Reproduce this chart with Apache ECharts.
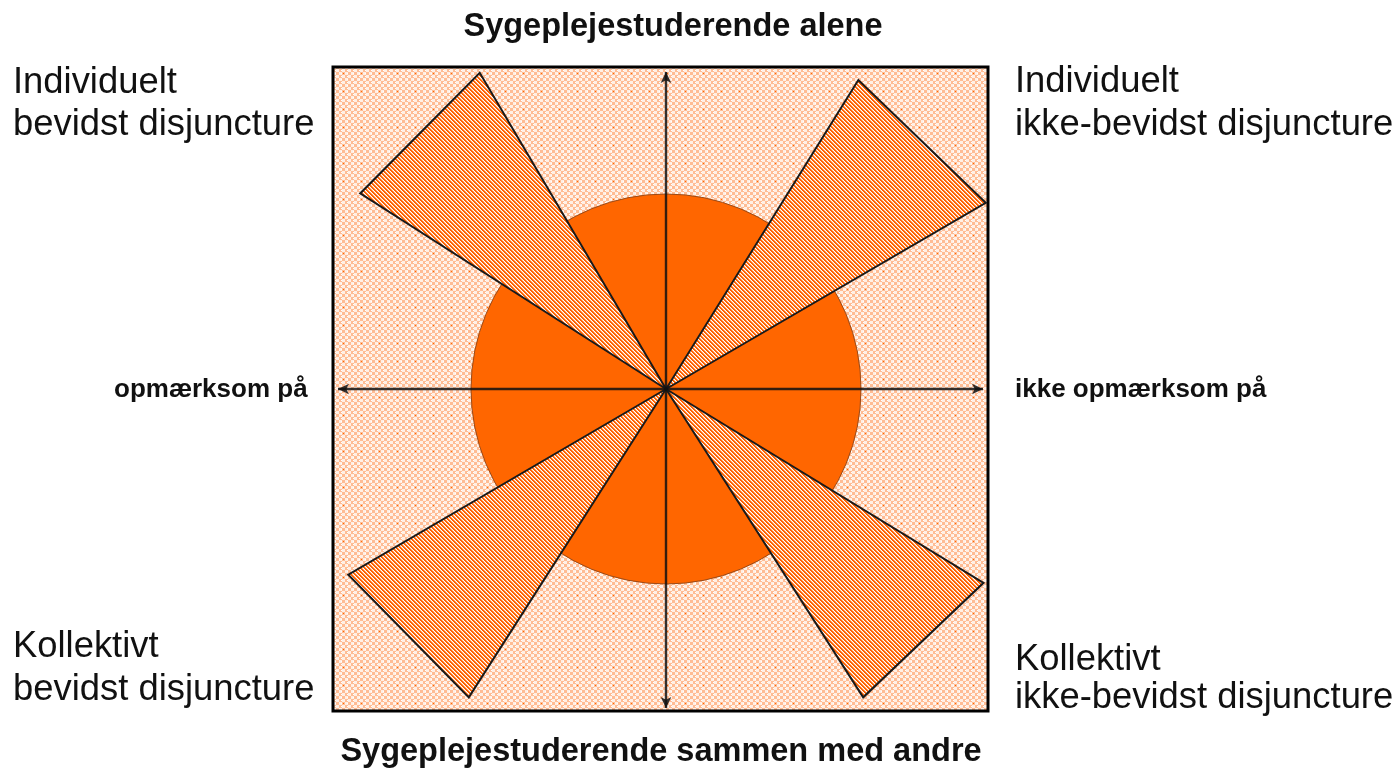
<!DOCTYPE html>
<html><head><meta charset="utf-8">
<script src="https://cdn.jsdelivr.net/npm/echarts@6/dist/echarts.min.js"></script>
<style>html,body{margin:0;padding:0;background:#fff}#c{width:1396px;height:772px}</style>
</head><body><div id="c"></div>
<script>
// ---- data ----
const xRange = [-333, 322];
const yRange = [-322, 322];
const circleRadius = 195;
const petalNames = ['Individuelt bevidst', 'Individuelt ikke-bevidst', 'Kollektivt bevidst', 'Kollektivt ikke-bevidst'];
const petalAngleA = [120.5, 30.2, 210.3, 302.6];
const petalLenA   = [367, 370, 368, 366];
const petalAngleB = [147.4, 58.1, 237.4, 328.6];
const petalLenB   = [363, 364, 366, 372];
const hAxisExtent = [-328, 317];
const vAxisExtent = [-319, 317];
const topTitle = 'Sygeplejestuderende alene';
const bottomTitle = 'Sygeplejestuderende sammen med andre';
const leftAxisLabel = 'opmærksom på';
const rightAxisLabel = 'ikke opmærksom på';
const cornerTL = ['Individuelt', 'bevidst disjuncture'];
const cornerTR = ['Individuelt', 'ikke-bevidst disjuncture'];
const cornerBL = ['Kollektivt', 'bevidst disjuncture'];
const cornerBR = ['Kollektivt', 'ikke-bevidst disjuncture'];

// ---- patterns ----
function makeBg() {
  const W = 36, H = 36;
  const c = document.createElement('canvas'); c.width = W; c.height = H;
  const g = c.getContext('2d');
  for (let y = 0; y < H; y++) for (let x = 0; x < W; x++) {
    const b = (Math.floor(x / 3) + Math.floor(y / 3)) % 2;
    let col = b === 0 ? '#ffbc94' : '#fff0e6';
    if ((x % 6 === 5 && y % 3 === 1)) col = '#ffffff';
    g.fillStyle = col; g.fillRect(x, y, 1, 1);
  }
  g.fillStyle = '#ff6a00';
  g.fillRect(1, 1, 1, 1); g.fillRect(19, 19, 1, 1);
  g.fillRect(19, 1, 1, 1); g.fillRect(1, 19, 1, 1);
  return c;
}
function makeHatch() {
  const W = 8, H = 8;
  const c = document.createElement('canvas'); c.width = W; c.height = H;
  const g = c.getContext('2d');
  for (let y = 0; y < H; y++) for (let x = 0; x < W; x++) {
    const v = (((x - y) % 4) + 4) % 4;
    g.fillStyle = v < 2 ? '#ff6200' : (v === 2 ? '#ffb88c' : '#ffffff');
    g.fillRect(x, y, 1, 1);
  }
  return c;
}
const bgPattern = { image: makeBg(), repeat: 'repeat' };
const hatchPattern = { image: makeHatch(), repeat: 'repeat' };

const petalData = petalNames.map((n, i) => [petalAngleA[i], petalLenA[i], petalAngleB[i], petalLenB[i]]);

const chart = echarts.init(document.getElementById('c'), null, { renderer: 'canvas' });
const rad = d => d * Math.PI / 180;

function textEl(str, x, y, font, align) {
  return { type: 'text', x: x, y: y, silent: true, z: 100,
    style: { text: str, font: font, fill: '#111', align: align, verticalAlign: 'middle' } };
}
const cornerFont = '36.4px "Liberation Sans", Arial, sans-serif';
const titleFont = 'bold 32.5px "Liberation Sans", Arial, sans-serif';
const axFont = 'bold 26px "Liberation Sans", Arial, sans-serif';

chart.setOption({
  animation: false,
  grid: { left: 333, top: 67, width: 655, height: 644, show: false },
  xAxis: { type: 'value', min: xRange[0], max: xRange[1], show: false },
  yAxis: { type: 'value', min: yRange[0], max: yRange[1], show: false },
  graphic: [
    textEl(topTitle, 673, 27, titleFont, 'center'),
    textEl(bottomTitle, 661, 752, titleFont, 'center'),
    textEl(leftAxisLabel, 114, 390, axFont, 'left'),
    textEl(rightAxisLabel, 1015, 390, axFont, 'left'),
    textEl(cornerTL[0], 13, 83, cornerFont, 'left'),
    textEl(cornerTL[1], 13, 125, cornerFont, 'left'),
    textEl(cornerTR[0], 1015, 82, cornerFont, 'left'),
    textEl(cornerTR[1], 1015, 125, cornerFont, 'left'),
    textEl(cornerBL[0], 13, 647, cornerFont, 'left'),
    textEl(cornerBL[1], 13, 690, cornerFont, 'left'),
    textEl(cornerBR[0], 1015, 660, cornerFont, 'left'),
    textEl(cornerBR[1], 1015, 698, cornerFont, 'left')
  ],
  series: [
    { type: 'custom', silent: true, z: 1, data: [0],
      renderItem: (p, api) => {
        const a = api.coord([xRange[0], yRange[1]]), b = api.coord([xRange[1], yRange[0]]);
        return { type: 'rect', shape: { x: a[0], y: a[1], width: b[0] - a[0], height: b[1] - a[1] },
          style: { fill: bgPattern } };
      } },
    { type: 'custom', silent: true, z: 2, data: [circleRadius],
      renderItem: (p, api) => {
        const c = api.coord([0, 0]);
        const r = api.size([api.value(0), 0])[0];
        return { type: 'circle', shape: { cx: c[0], cy: c[1], r: r },
          style: { fill: '#ff6600', stroke: '#9a4a18', lineWidth: 1 } };
      } },
    { type: 'custom', silent: true, z: 3, data: petalData,
      renderItem: (p, api) => {
        const a1 = rad(api.value(0)), l1 = api.value(1), a2 = rad(api.value(2)), l2 = api.value(3);
        const pts = [api.coord([0, 0]),
          api.coord([l1 * Math.cos(a1), l1 * Math.sin(a1)]),
          api.coord([l2 * Math.cos(a2), l2 * Math.sin(a2)])];
        return { type: 'polygon', shape: { points: pts },
          style: { fill: hatchPattern, stroke: '#1a1a1a', lineWidth: 2, lineJoin: 'miter' } };
      } },
    { type: 'line', silent: true, z: 4, data: [[0, 0]], symbol: 'none', lineStyle: { opacity: 0 },
      markLine: { silent: true, animation: false, symbol: ['arrow', 'arrow'], symbolSize: [8, 11],
        label: { show: false }, emphasis: { disabled: true },
        lineStyle: { color: '#111', width: 2.4, type: 'solid', opacity: 0.85 },
        data: [
          [{ coord: [hAxisExtent[0], 0] }, { coord: [hAxisExtent[1], 0] }],
          [{ coord: [0, vAxisExtent[0]] }, { coord: [0, vAxisExtent[1]] }]
        ] } },
    { type: 'custom', silent: true, z: 5, data: [0],
      renderItem: (p, api) => {
        const a = api.coord([xRange[0], yRange[1]]), b = api.coord([xRange[1], yRange[0]]);
        return { type: 'rect', shape: { x: a[0], y: a[1], width: b[0] - a[0], height: b[1] - a[1] },
          style: { fill: 'none', stroke: '#000', lineWidth: 3 } };
      } }
  ]
});
</script></body></html>
